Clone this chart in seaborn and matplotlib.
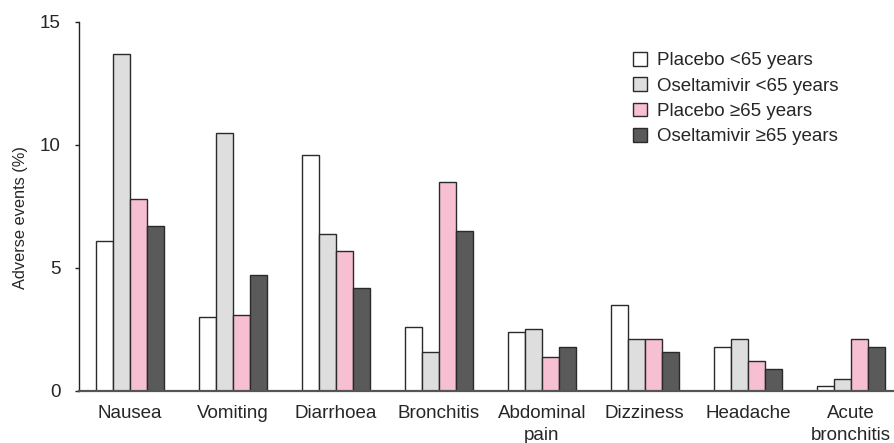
import matplotlib
matplotlib.use("Agg")
import matplotlib.pyplot as plt
import seaborn as sns
import pandas as pd
from matplotlib.patches import Patch

categories = ["Nausea", "Vomiting", "Diarrhoea", "Bronchitis", "Abdominal\npain",
              "Dizziness", "Headache", "Acute\nbronchitis"]
series_names = ["Placebo <65 years", "Oseltamivir <65 years",
                "Placebo \u226565 years", "Oseltamivir \u226565 years"]
placebo_young = [6.1, 3.0, 9.6, 2.6, 2.4, 3.5, 1.8, 0.2]
oselt_young = [13.7, 10.5, 6.4, 1.6, 2.5, 2.1, 2.1, 0.5]
placebo_old = [7.8, 3.1, 5.7, 8.5, 1.4, 2.1, 1.2, 2.1]
oselt_old = [6.7, 4.7, 4.2, 6.5, 1.8, 1.6, 0.9, 1.8]
yticks = [0, 5, 10, 15]

colors = ["#ffffff", "#dedede", "#f7bfd2", "#5a5a5a"]

rows = []
for name, vals in zip(series_names, [placebo_young, oselt_young, placebo_old, oselt_old]):
    for c, v in zip(categories, vals):
        rows.append({"cat": c, "series": name, "value": v})
df = pd.DataFrame(rows)

sns.set_style("white")
plt.rcParams["font.family"] = ["Liberation Sans", "DejaVu Sans"]

FS = 13.5
fig = plt.figure(figsize=(8.95, 4.43), dpi=100)
ax = fig.add_axes([0.0883, 0.1174, 0.9117, 0.833])

sns.barplot(data=df, x="cat", y="value", hue="series", order=categories,
            hue_order=series_names, palette=colors, width=0.66,
            edgecolor="#2a2a2a", linewidth=1.0, ax=ax, legend=False,
            errorbar=None, saturation=1)

ax.set_xlim(-0.495, 7.43)
ax.set_ylim(0, 15)
ax.set_yticks(yticks)
ax.set_yticklabels([str(t) for t in yticks], fontsize=FS)
ax.set_ylabel("Adverse events (%)", fontsize=11.8)
ax.yaxis.set_label_coords(-0.062, 0.469)
ax.set_xlabel("")
ax.tick_params(axis="x", length=0, pad=10, labelsize=FS)
ax.tick_params(axis="y", length=3, width=1, color="#222222", pad=10, left=True)
for lab in ax.get_xticklabels():
    lab.set_linespacing(1.42)

for s in ["top", "right"]:
    ax.spines[s].set_visible(False)
ax.spines["left"].set_color("#222222")
ax.spines["left"].set_linewidth(1)
ax.spines["bottom"].set_color("#555555")
ax.spines["bottom"].set_linewidth(1.6)

handles = [Patch(facecolor=c, edgecolor="#2a2a2a", linewidth=1.0) for c in colors]
ax.legend(handles, series_names, loc="upper left",
          bbox_to_anchor=(633 / 895, 1 - 52 / 443), bbox_transform=fig.transFigure,
          frameon=False, fontsize=FS, handlelength=0.75, handleheight=0.75,
          handletextpad=0.55, labelspacing=0.42, borderpad=0, borderaxespad=0)

fig.savefig("out.png", dpi=100)
